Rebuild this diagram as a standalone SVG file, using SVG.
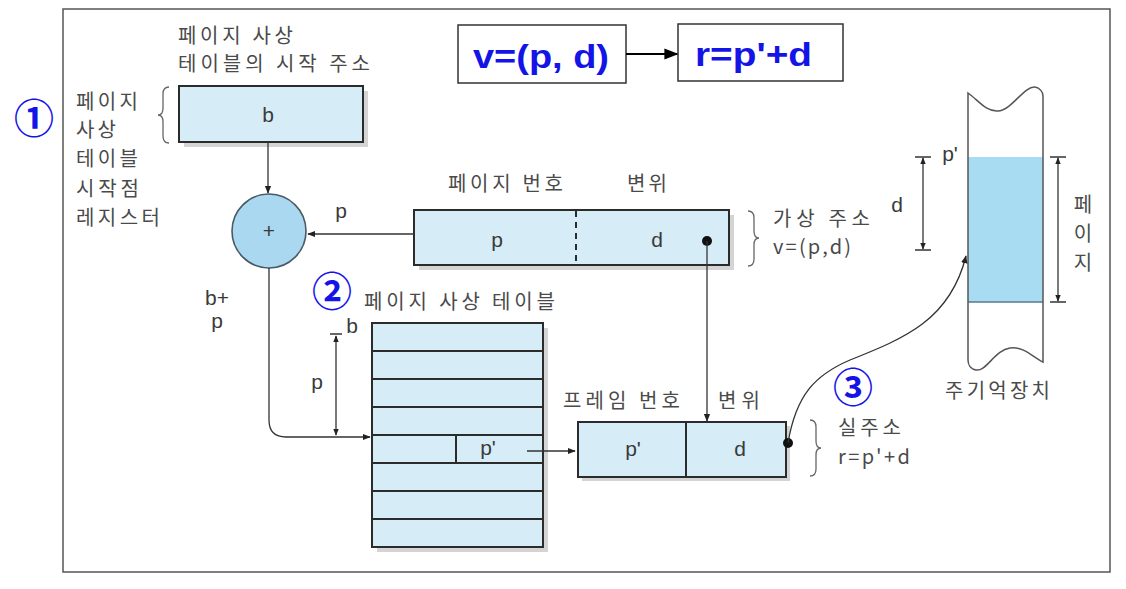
<svg xmlns="http://www.w3.org/2000/svg" width="1126" height="589" viewBox="0 0 1126 589">
<defs>
<style>
.lbl{font-family:"Noto Sans CJK KR","Noto Sans",sans-serif;font-size:20px;fill:#4a4a4a}
.lat{font-family:"Liberation Sans","Noto Sans",sans-serif;font-size:21px;fill:#3a3a3a}
.box{fill:#d6edf8;stroke:#2b2b2b;stroke-width:2}
.shadow{fill:#d4d4d4}
.ln{stroke:#333;stroke-width:1.3;fill:none}
.brace{stroke:#666;stroke-width:1.3;fill:none}
.num{font-family:"Noto Sans CJK KR","Noto Sans",sans-serif;font-size:40px;font-weight:bold;fill:#1414e6}
.frm{font-family:"Liberation Sans","Noto Sans",sans-serif;font-weight:bold;fill:#1414e6;font-size:33px}
.fbox{fill:#fff;stroke:#333;stroke-width:1.5}
</style>
<marker id="ah" viewBox="0 0 10 10" refX="9" refY="5" markerWidth="8" markerHeight="8" markerUnits="userSpaceOnUse" orient="auto">
<path d="M0,1 L10,5 L0,9 Z" fill="#222"/>
</marker>
<marker id="ahs" viewBox="0 0 10 10" refX="9" refY="5" markerWidth="7" markerHeight="7" markerUnits="userSpaceOnUse" orient="auto-start-reverse">
<path d="M0,1 L10,5 L0,9 Z" fill="#222"/>
</marker>
<marker id="ahb" viewBox="0 0 10 10" refX="9" refY="5" markerWidth="14" markerHeight="14" markerUnits="userSpaceOnUse" orient="auto">
<path d="M0,1 L10,5 L0,9 Z" fill="#000"/>
</marker>
</defs>
<rect x="0" y="0" width="1126" height="589" fill="#fff"/>
<rect x="63" y="9" width="1047" height="563" fill="#fff" stroke="#555" stroke-width="1.5"/>

<g id="formula-v">
<rect class="fbox" x="458" y="25" width="168" height="58"/>
<text class="frm" x="473" y="68" textLength="136" lengthAdjust="spacingAndGlyphs">v=(p, d)</text>
</g>
<g id="formula-r">
<rect class="fbox" x="678" y="24" width="165" height="57"/>
<text class="frm" x="695" y="66" textLength="117" lengthAdjust="spacingAndGlyphs">r=p'+d</text>
</g>

<g id="step1">
<text class="num" x="34" y="116" text-anchor="middle" dominant-baseline="central">①</text>
</g>
<g id="step2">
<text class="num" x="332" y="289" text-anchor="middle" dominant-baseline="central">②</text>
</g>
<g id="step3">
<text class="num" x="853" y="385" text-anchor="middle" dominant-baseline="central">③</text>
</g>

<g id="ptbr-title">
<text class="lbl" x="178" y="43" textLength="115">페이지 사상</text>
<text class="lbl" x="178" y="71" textLength="192">테이블의 시작 주소</text>
</g>
<g id="ptbr-label">
<text class="lbl" x="76" y="109" textLength="62">페이지</text>
<text class="lbl" x="76" y="137" textLength="40">사상</text>
<text class="lbl" x="76" y="166" textLength="62">테이블</text>
<text class="lbl" x="76" y="196" textLength="63">시작점</text>
<text class="lbl" x="76" y="225" textLength="84">레지스터</text>
<path class="brace" d="M169,87 Q163,87 163,94 L163,108 Q163,115 158,115 Q163,115 163,122 L163,136 Q163,143 169,143"/>
</g>

<g id="ptbr">
<rect class="shadow" x="184" y="91" width="184" height="56"/>
<rect class="box" x="179" y="86" width="184" height="56"/>
<text class="lat" x="268" y="122" text-anchor="middle">b</text>
</g>

<g id="adder">
<circle cx="269" cy="231" r="37" fill="#a9d8f0" stroke="#4a5a66" stroke-width="1.6"/>
<text class="lat" x="269" y="238" text-anchor="middle" font-size="20">+</text>
</g>

<g id="virtual-address">
<text class="lbl" x="448" y="191" textLength="115">페이지 번호</text>
<text class="lbl" x="627" y="191" textLength="40">변위</text>
<rect class="shadow" x="419" y="215" width="315" height="55"/>
<rect class="box" x="414" y="210" width="315" height="55"/>
<line x1="576" y1="211" x2="576" y2="264" stroke="#2b2b2b" stroke-width="2" stroke-dasharray="6,5"/>
<text class="lat" x="497" y="247" text-anchor="middle">p</text>
<text class="lat" x="657" y="247" text-anchor="middle">d</text>
<circle cx="707" cy="241" r="5" fill="#111"/>
<path class="brace" d="M748,211 Q754,211 754,218 L754,231 Q754,238 759,238 Q754,238 754,245 L754,259 Q754,266 748,266"/>
<text class="lbl" x="773" y="226" textLength="97">가상 주소</text>
<text class="lbl" x="773" y="254" textLength="78">v=(p,d)</text>
</g>

<g id="page-table">
<text class="lbl" x="364" y="309" textLength="191">페이지 사상 테이블</text>
<rect class="shadow" x="377" y="328" width="171" height="224"/>
<rect class="box" x="372" y="323" width="171" height="224"/>
<g stroke="#2b2b2b" stroke-width="2">
<line x1="372" y1="351" x2="543" y2="351"/>
<line x1="372" y1="379" x2="543" y2="379"/>
<line x1="372" y1="407" x2="543" y2="407"/>
<line x1="372" y1="435" x2="543" y2="435"/>
<line x1="372" y1="463" x2="543" y2="463"/>
<line x1="372" y1="491" x2="543" y2="491"/>
<line x1="372" y1="519" x2="543" y2="519"/>
<line x1="456" y1="435" x2="456" y2="463"/>
</g>
<text class="lat" x="488" y="455" text-anchor="middle">p'</text>
<text class="lat" x="217" y="305" text-anchor="middle">b+</text>
<text class="lat" x="217" y="328" text-anchor="middle">p</text>
<text class="lat" x="352" y="333" text-anchor="middle">b</text>
<line x1="330" y1="334" x2="342" y2="334" stroke="#333" stroke-width="1.5"/>
<line x1="336" y1="336" x2="336" y2="435" stroke="#333" stroke-width="1.3" marker-start="url(#ahs)" marker-end="url(#ahs)"/>
<text class="lat" x="317" y="389" text-anchor="middle">p</text>
</g>

<g id="frame-address">
<text class="lbl" x="563" y="408" textLength="117">프레임 번호</text>
<text class="lbl" x="718" y="408" textLength="42">변위</text>
<rect class="shadow" x="582" y="426" width="208" height="55"/>
<rect class="box" x="578" y="422" width="208" height="55"/>
<line x1="686" y1="422" x2="686" y2="477" stroke="#2b2b2b" stroke-width="2"/>
<text class="lat" x="633" y="456" text-anchor="middle">p'</text>
<text class="lat" x="740" y="456" text-anchor="middle">d</text>
<circle cx="788" cy="443" r="5" fill="#111"/>
<path class="brace" d="M810,420 Q816,420 816,427 L816,441 Q816,448 821,448 Q816,448 816,455 L816,469 Q816,476 810,476"/>
<text class="lbl" x="838" y="435" textLength="63">실주소</text>
<text class="lbl" x="838" y="464" textLength="72">r=p'+d</text>
</g>

<g id="main-memory">
<rect x="968" y="157" width="75" height="145" fill="#a8dcf3"/>
<line x1="968" y1="302" x2="1043" y2="302" stroke="#5a7a8a" stroke-width="1.3"/>
<path d="M968,93 C978,100 986,112 998,111 C1012,110 1024,86 1035,87 C1040,88 1043,92 1043,96 L1043,362 C1034,358 1024,346 1010,348 C995,350 986,372 976,370 C970,369 968,364 968,360 Z" fill="none" stroke="#555" stroke-width="1.5"/>
<text class="lat" x="950" y="161" text-anchor="middle">p'</text>
<line x1="915" y1="157" x2="931" y2="157" stroke="#333" stroke-width="1.5"/>
<line x1="915" y1="250" x2="931" y2="250" stroke="#333" stroke-width="1.5"/>
<line x1="923" y1="158" x2="923" y2="249" stroke="#333" stroke-width="1.3" marker-start="url(#ahs)" marker-end="url(#ahs)"/>
<text class="lat" x="897" y="212" text-anchor="middle">d</text>
<line x1="1050" y1="157" x2="1066" y2="157" stroke="#333" stroke-width="1.5"/>
<line x1="1050" y1="302" x2="1066" y2="302" stroke="#333" stroke-width="1.5"/>
<line x1="1058" y1="158" x2="1058" y2="301" stroke="#333" stroke-width="1.3" marker-start="url(#ahs)" marker-end="url(#ahs)"/>
<text class="lbl" x="1083" y="212" text-anchor="middle">페</text>
<text class="lbl" x="1083" y="241" text-anchor="middle">이</text>
<text class="lbl" x="1083" y="270" text-anchor="middle">지</text>
<text class="lbl" x="945" y="398" textLength="105">주기억장치</text>
</g>

<g id="connectors">
<line x1="626" y1="54" x2="677" y2="54" stroke="#000" stroke-width="2" marker-end="url(#ahb)"/>
<line class="ln" x1="268" y1="142" x2="268" y2="193" marker-end="url(#ah)"/>
<line class="ln" x1="414" y1="234" x2="308" y2="234" marker-end="url(#ah)"/>
<text class="lat" x="341" y="218" text-anchor="middle">p</text>
<path class="ln" d="M269,268 L269,420 Q269,437 286,437 L370,437" marker-end="url(#ah)"/>
<line class="ln" x1="707" y1="241" x2="707" y2="421" marker-end="url(#ah)"/>
<line class="ln" x1="527" y1="451" x2="575" y2="451" marker-end="url(#ah)"/>
<path class="ln" d="M788,443 C796,395 815,375 850,360 C905,338 950,320 966,256" marker-end="url(#ah)"/>
</g>
</svg>
